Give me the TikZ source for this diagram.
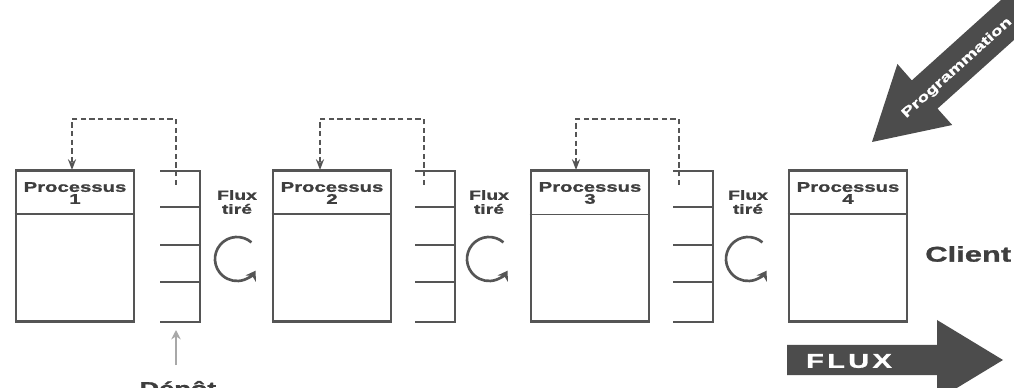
\documentclass[tikz,border=0pt]{standalone}
\usepackage{fontspec}
\setmainfont{Liberation Sans}[FakeStretch=1.45,BoldFeatures={FakeBold=1.2}]
\usetikzlibrary{arrows.meta,calc}
\definecolor{ln}{HTML}{555555}
\definecolor{tx}{HTML}{3E3E3E}
\definecolor{af}{HTML}{4C4C4C}
\definecolor{lg}{HTML}{A8A8A8}
\tikzset{
  procbox/.style={draw=ln,line width=2.2pt,minimum width=88.5pt,minimum height=113pt,inner sep=0pt},
  hdr/.style={text=tx,font=\bfseries\fontsize{10.5}{11}\selectfont,align=center,inner sep=0pt},
  rackln/.style={draw=ln,line width=2.2pt},
  dashconn/.style={draw=ln,line width=1.4pt,dash pattern=on 4pt off 2.5pt,-{Stealth[length=8pt,width=6pt]}},
  cyc/.style={draw=ln,line width=2pt,-{Stealth[length=7pt,width=9pt]}},
  lbl/.style={text=tx,font=\bfseries\fontsize{10}{11.5}\selectfont,align=center,inner sep=0pt},
}
\begin{document}
\begin{tikzpicture}[x=0.75pt,y=-0.75pt]
\useasboundingbox[fill=white] (0,0) rectangle (1014,388);
% process boxes
\foreach \n/\cx in {1/75,2/332,3/590,4/848}{
  \node[procbox] (p\n) at (\cx,246) {};
  \node[hdr] (h\n) at (\cx,193) {Processus\\[-2pt]\n};
}
\foreach \n/\w in {1/1.6pt,2/1.6pt,3/0.8pt,4/1.6pt}{
  \draw[ln,line width=\w] ([yshift=-33.75pt]p\n.north west) -- ([yshift=-33.75pt]p\n.north east);
}
% racks
\foreach \n/\L in {1/160,2/415,3/673}{
  \coordinate (rk\n) at (\L,171);
  \draw[rackln] (\L,171) -- (\L+40,171) -- (\L+40,322) -- (\L,322);
  \foreach \yy in {207,245,282}{ \draw[rackln] (\L,\yy) -- (\L+40,\yy); }
}
% dashed kanban loops
\foreach \n/\rx/\px in {1/176/72,2/424/320,3/679/576}{
  \coordinate (ds\n) at (\rx,185);
  \coordinate (de\n) at (\px,170);
  \draw[dashconn] (ds\n) -- ++(0,-66) -| (de\n);
}
% Flux tiré labels and circular arrows
\foreach \n/\fx in {1/237,2/489,3/748}{
  \node[lbl] (ft\n) at (\fx,202) {Flux\\[-1pt]tiré};
  \draw[cyc] (\fx,259) ++(-49:22) arc[start angle=-49,end angle=-328,radius=22];
}
% Dépôt
\coordinate (dp) at (176,365);
\draw[lg,line width=2pt,-{Stealth[length=7pt,width=7pt]}] (dp) -- (176,330);
\node[text=tx,font=\bfseries\fontsize{14}{15}\selectfont,anchor=base,inner sep=0pt] (depot) at (178,395) {Dépôt};
% Client
\node[text=tx,font=\bfseries\fontsize{16}{17}\selectfont,anchor=west,inner sep=0pt] (client) at (925,254) {Client};
% FLUX arrow
\fill[af] (787,345) -- (937,345) -- (937,320) -- (1003,360) -- (937,400) -- (937,375) -- (787,375) -- cycle;
\node[text=white,font=\bfseries\fontsize{15}{16}\selectfont,inner sep=0pt] (flux) at (849,361) {F\,L\,U\,X};
% Programmation arrow
\fill[af] (872,142) -- (952.2,125.0) -- (937.5,108.6) -- (1078.1,-17.6) -- (1052.3,-46.2) -- (911.8,80.4) -- (897.4,64.0) -- cycle;
\node[text=white,font=\bfseries\fontsize{10}{11}\selectfont,rotate=42,inner sep=0pt] (prog) at (957,68) {Programmation};
\end{tikzpicture}
\end{document}
